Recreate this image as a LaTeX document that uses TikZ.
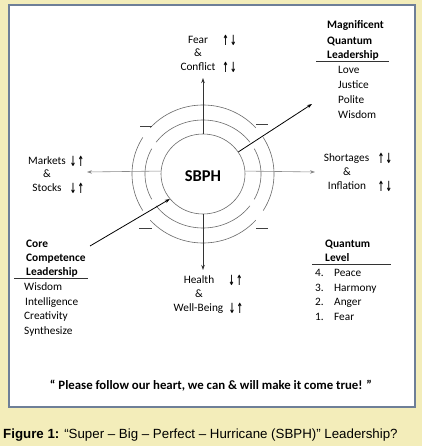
\documentclass[tikz,border=0pt]{standalone}
\usepackage{fontspec}
\setmainfont{Carlito}
\newfontfamily\capfont{Liberation Sans}
\newfontfamily\arrfont{DejaVu Sans}
\usetikzlibrary{arrows.meta,shapes.geometric}
\definecolor{bgyellow}{HTML}{F3EDBA}
\definecolor{frameblue}{HTML}{6E7F98}
\definecolor{arcgray}{HTML}{6A6A6A}
\definecolor{hgray}{HTML}{8A8A8A}
\newcommand\updn[1]{\scalebox{0.55}[1]{#1}}
\begin{document}
\begin{tikzpicture}[x=1pt,y=-1pt,
  txt/.style={inner sep=0pt, anchor=mid, font=\fontsize{11.3}{13}\selectfont},
  ltxt/.style={txt, anchor=mid west},
  btxt/.style={ltxt, font=\fontsize{11.4}{13}\selectfont\bfseries},
  arr/.style={inner sep=0pt, anchor=center, font=\arrfont\bfseries\fontsize{14}{15}\selectfont},
  arcline/.style={arcgray, line width=0.6pt},
  tip/.style={-{Stealth[length=5pt,width=3.5pt]}},
  rule/.style={line width=0.8pt, black!80}]
\fill[bgyellow] (0,0) rectangle (422,446);
\useasboundingbox (0,0) rectangle (422,446);
\draw[frameblue, line width=2pt, fill=white] (9,5) rectangle (415,407);

% centre
\node[ellipse, draw=arcgray, line width=0.6pt, minimum width=84pt, minimum height=80pt, inner sep=0pt] (sbph) at (203,174) {};
\node[inner sep=0pt, font=\fontsize{16.5}{18}\selectfont\bfseries] (sbphtxt) at (203,176) {SBPH};

% rings
\foreach \rx/\ry/\a/\b in {58/54/36/144, 58/54/152/208, 58/54/216/324, 58/54/-28/28,
                           71/69/42/138, 71/69/148/212, 71/69/222/318, 71/69/-32/32}
  \draw[arcline] plot[domain=\a:\b, samples=40] ({203+\rx*cos(\x)},{174-\ry*sin(\x)});
\draw[black!75, line width=0.9pt] (140,126) -- (152,126);
\draw[black!75, line width=0.9pt] (256,124) -- (268,124);
\draw[black!75, line width=0.9pt] (139,228) -- (152,228);
\draw[black!75, line width=0.9pt] (256,228) -- (268,228);

% end points
\coordinate (ctop) at (203,78);
\coordinate (cbot) at (203,270);
\coordinate (cleft) at (87,172);
\coordinate (cright) at (315,172);
\coordinate (cne) at (312,104);
\coordinate (csw) at (90,246);

\draw[tip, black!80, line width=0.8pt] (sbph.north) -- (ctop);
\draw[tip, black!80, line width=0.8pt] (sbph.south) -- (cbot);
\draw[tip, hgray, line width=0.6pt] (sbph.176) -- (cleft);
\draw[tip, hgray, line width=0.6pt] (sbph.4) -- (cright);
\draw[tip, black, line width=0.8pt] (sbph.32) -- (cne);
\draw[tip, black, line width=0.8pt] (csw) -- (sbph.217);

% top
\node[txt] (fear) at (198,41) {Fear};
\node[txt] (famp) at (198,54) {\&};
\node[txt] (conf) at (198,68) {Conflict};
\node[arr] (fa1) at (229.5,40) {\updn{↑\,↓}};
\node[arr] (fa2) at (229.5,67) {\updn{↑\,↓}};

% left
\node[txt] (mark) at (47,162) {Markets};
\node[txt] (mamp) at (47,175) {\&};
\node[txt] (stoc) at (47,189) {Stocks};
\node[arr] (ma1) at (77,161) {\updn{↓\,↑}};
\node[arr] (ma2) at (77,188) {\updn{↓\,↑}};

% right
\node[txt] (shor) at (346.5,159) {Shortages};
\node[txt] (samp) at (347,173) {\&};
\node[txt] (infl) at (347,187) {Inflation};
\node[arr] (sa1) at (385,158) {\updn{↑\,↓}};
\node[arr] (sa2) at (385,186) {\updn{↑\,↓}};

% bottom
\node[txt] (heal) at (199,281) {Health};
\node[txt] (hamp) at (199,295) {\&};
\node[txt] (well) at (198.5,309) {Well-Being};
\node[arr] (ha1) at (235.5,280) {\updn{↓\,↑}};
\node[arr] (ha2) at (236,308) {\updn{↓\,↑}};

% Magnificent Quantum Leadership
\node[btxt] (mq1) at (327,26) {Magnificent};
\node[btxt] (mq2) at (327,42) {Quantum};
\node[btxt] (mq3) at (327,56) {Leadership};
\draw[rule] (316,61) -- (389,61);
\node[ltxt] (mql1) at (338,71) {Love};
\node[ltxt] (mql2) at (338,86) {Justice};
\node[ltxt] (mql3) at (338,101) {Polite};
\node[ltxt] (mql4) at (338,116) {Wisdom};

% Core Competence Leadership
\node[btxt] (cc1) at (26,245) {Core};
\node[btxt] (cc2) at (26,259) {Competence};
\node[btxt] (cc3) at (26,273) {Leadership};
\draw[rule] (14,278) -- (88,278);
\node[ltxt] (ccl1) at (24,288) {Wisdom};
\node[ltxt] (ccl2) at (25,303) {Intelligence};
\node[ltxt] (ccl3) at (24,317) {Creativity};
\node[ltxt] (ccl4) at (24,332) {Synthesize};

% Quantum Level
\node[btxt] (ql1) at (325,245) {Quantum};
\node[btxt] (ql2) at (325,259) {Level};
\draw[rule] (312,264) -- (391,264);
\foreach \n/\w/\y in {4/Peace/274, 3/Harmony/289, 2/Anger/303, 1/Fear/318}{
  \node[ltxt] (qn\n) at (315,\y) {\n.};
  \node[ltxt] (qw\n) at (334,\y) {\w};
}

% quote
\node[inner sep=0pt, anchor=mid, font=\fontsize{12.8}{14}\selectfont\bfseries] (quote) at (211,387)
  {“ Please follow our heart, we can \& will make it come true! ”};

% caption
\node[inner sep=0pt, anchor=mid west, font=\capfont\fontsize{13.3}{15}\selectfont] (cap) at (3,436)
  {\textbf{Figure 1:} “Super – Big – Perfect – Hurricane (SBPH)” Leadership?};
\end{tikzpicture}
\end{document}
